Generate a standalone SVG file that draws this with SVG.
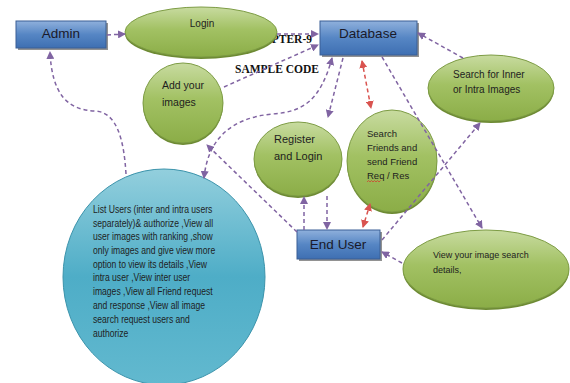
<svg xmlns="http://www.w3.org/2000/svg" width="570" height="383" viewBox="0 0 570 383">
<defs>
<linearGradient id="gBlue" x1="0" y1="0" x2="0" y2="1">
<stop offset="0" stop-color="#8fb0dc"/><stop offset="0.5" stop-color="#5686c4"/><stop offset="1" stop-color="#3e6fb2"/>
</linearGradient>
<linearGradient id="gGreen" x1="0" y1="0" x2="0" y2="1">
<stop offset="0" stop-color="#c8dba0"/><stop offset="0.45" stop-color="#a2c163"/><stop offset="1" stop-color="#8bad47"/>
</linearGradient>
<linearGradient id="gCyan" x1="0" y1="0" x2="0" y2="1">
<stop offset="0" stop-color="#93cfdd"/><stop offset="0.5" stop-color="#4eadc7"/><stop offset="1" stop-color="#62b9cf"/>
</linearGradient>
<marker id="aP" viewBox="0 0 8 8" refX="7" refY="4" markerWidth="8" markerHeight="8" markerUnits="userSpaceOnUse" orient="auto-start-reverse">
<path d="M0,0 L8,4 L0,8 Z" fill="#8064a2"/>
</marker>
<marker id="aR" viewBox="0 0 8 8" refX="7" refY="4" markerWidth="8" markerHeight="8" markerUnits="userSpaceOnUse" orient="auto-start-reverse">
<path d="M0,0 L8,4 L0,8 Z" fill="#d9534f"/>
</marker>
</defs>
<style>
.box{fill:url(#gBlue);stroke:#3a5f95;stroke-width:1}
.shadow{fill:#4a4a4a;opacity:0.6}
.ell{fill:url(#gGreen);stroke:#7d9c44;stroke-width:1}
.eshadow{fill:#6d8a33}
.cyan{fill:url(#gCyan);stroke:#3b93ab;stroke-width:1}
.bt{font-family:"Liberation Sans",Arial,sans-serif;font-size:13.5px;fill:#1a1a2a;text-anchor:middle}
.t{font-family:"Liberation Sans",Arial,sans-serif;font-size:10px;fill:#1e1e1e}
.ser{font-family:"Liberation Serif","Times New Roman",serif;font-size:11.5px;font-weight:bold;fill:#111}
.c{fill:none;stroke:#8064a2;stroke-width:1.5;stroke-dasharray:4 3}
.cr{fill:none;stroke:#d9534f;stroke-width:1.5;stroke-dasharray:4 3}
</style>
<text class="ser" x="312" y="43" text-anchor="end">PTER-9</text>
<text class="ser" x="235" y="73">SAMPLE CODE</text>
<g id="admin">
<rect class="shadow" x="18" y="23" width="90" height="27"/>
<rect class="box" x="16" y="21" width="90" height="27"/>
<text class="bt" x="61" y="38">Admin</text>
</g>
<g id="login">
<ellipse class="eshadow" cx="201" cy="34" rx="76" ry="25"/>
<ellipse class="ell" cx="201" cy="32" rx="76" ry="25"/>
<text class="t" x="202" y="27" text-anchor="middle">Login</text>
</g>
<g id="database">
<rect class="shadow" x="322" y="23" width="97" height="34"/>
<rect class="box" x="320" y="21" width="97" height="34"/>
<text class="bt" x="368" y="38">Database</text>
</g>
<g id="search-inner">
<ellipse class="eshadow" cx="491" cy="90" rx="63" ry="33"/>
<ellipse class="ell" cx="491" cy="88" rx="63" ry="33"/>
<text class="t" x="453" y="78">Search for Inner</text>
<text class="t" x="453" y="93">or Intra Images</text>
</g>
<g id="add-images">
<ellipse class="eshadow" cx="183" cy="105" rx="40" ry="40"/>
<ellipse class="ell" cx="183" cy="103" rx="40" ry="40"/>
<text class="t" x="162" y="89" style="font-size:10.5px">Add your</text>
<text class="t" x="162" y="106" style="font-size:10.5px">images</text>
</g>
<g id="register">
<ellipse class="eshadow" cx="298" cy="161" rx="44" ry="37"/>
<ellipse class="ell" cx="298" cy="159" rx="44" ry="37"/>
<text class="t" x="274" y="143" style="font-size:11px">Register</text>
<text class="t" x="274" y="160" style="font-size:11px">and Login</text>
</g>
<g id="search-friends">
<ellipse class="eshadow" cx="392" cy="163" rx="45" ry="51"/>
<ellipse class="ell" cx="392" cy="161" rx="45" ry="51"/>
<text class="t" x="367" y="137" style="font-size:9.5px">Search</text>
<text class="t" x="367" y="151" style="font-size:9.5px">Friends and</text>
<text class="t" x="367" y="165" style="font-size:9.5px">send Friend</text>
<text class="t" x="367" y="179" style="font-size:9.5px">Req / Res</text>
<path d="M367,182 l1.5,-1.5 l1.5,1.5 l1.5,-1.5 l1.5,1.5 l1.5,-1.5 l1.5,1.5 l1.5,-1.5 l1.5,1.5 l1.5,-1.5" fill="none" stroke="#d04030" stroke-width="0.8"/>
</g>
<g id="end-user">
<rect class="shadow" x="299" y="232" width="83" height="29"/>
<rect class="box" x="297" y="230" width="83" height="29"/>
<text class="bt" x="338" y="249">End User</text>
</g>
<g id="view-search">
<ellipse class="eshadow" cx="486" cy="271" rx="83" ry="39"/>
<ellipse class="ell" cx="486" cy="269" rx="83" ry="39"/>
<text class="t" x="433" y="258" style="font-size:9px">View your image search</text>
<text class="t" x="433" y="273" style="font-size:9px">details,</text>
</g>
<g id="admin-functions">
<ellipse class="cyan" cx="164" cy="277" rx="101" ry="108"/>
<g transform="translate(93,0) scale(0.86,1)" class="t">
<text x="0" y="213">List Users (inter and intra users</text>
<text x="0" y="227">separately)&amp; authorize ,View all</text>
<text x="0" y="240">user  images with ranking ,show</text>
<text x="0" y="254">only images and give  view more</text>
<text x="0" y="268">option to view its details ,View</text>
<text x="0" y="281">intra user  ,View inter user</text>
<text x="0" y="295">images ,View all Friend request</text>
<text x="0" y="309">and response ,View all image</text>
<text x="0" y="323">search request users and</text>
<text x="0" y="337">authorize</text>
</g>
</g>
<g id="connectors">
<path class="c" d="M107,35 L125,34" marker-end="url(#aP)"/>
<path class="c" d="M277,34 L318,34" marker-end="url(#aP)"/>
<path class="c" d="M224,87 L318,45" marker-end="url(#aP)"/>
<path class="c" d="M332,58 C320,102 302,112 272,114 C232,118 208,138 204,178" marker-start="url(#aP)" marker-end="url(#aP)"/>
<path class="c" d="M343,58 L328,117" marker-end="url(#aP)"/>
<path class="cr" d="M362,61 L371,108" marker-start="url(#aR)" marker-end="url(#aR)"/>
<path class="c" d="M382,57 L482,228" marker-end="url(#aP)"/>
<path class="c" d="M463,58 L418,33" marker-end="url(#aP)"/>
<path class="c" d="M382,240 L480,123" marker-end="url(#aP)"/>
<path class="c" d="M402,263 L382,252" marker-end="url(#aP)"/>
<path class="c" d="M304,230 L304,197" marker-end="url(#aP)"/>
<path class="c" d="M327,196 L327,229" marker-end="url(#aP)"/>
<path class="cr" d="M370,204 L363,227" marker-start="url(#aR)" marker-end="url(#aR)"/>
<path class="c" d="M297,232 L207,145" marker-end="url(#aP)"/>
<path class="c" d="M126,174 C124,140 117,112 95,111 C68,110 52,95 50,52" marker-end="url(#aP)"/>
</g>
</svg>
